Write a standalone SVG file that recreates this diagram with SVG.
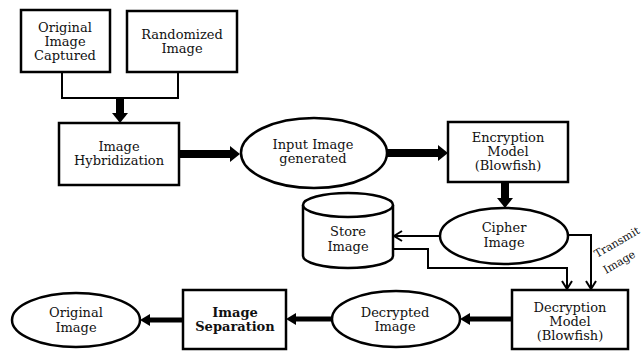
<svg xmlns="http://www.w3.org/2000/svg" width="643" height="351" viewBox="0 0 643 351">
<style>
.n{fill:#fff;stroke:#000;stroke-width:2.5}
.t{font-family:"DejaVu Serif","Liberation Serif",serif;font-size:13px;text-anchor:middle;fill:#111}
.s{font-size:11px;text-anchor:start}
.b{font-weight:bold}
.c{fill:none;stroke:#000;stroke-width:2}
.k{fill:none;stroke:#000;stroke-width:8}
.k2{fill:none;stroke:#000;stroke-width:5}
</style>
<defs>
<marker id="big" markerUnits="userSpaceOnUse" markerWidth="10" markerHeight="16" refX="4" refY="8" orient="auto"><path d="M0,0 L10,8 L0,16 z" fill="#000"/></marker>
<marker id="mid" markerUnits="userSpaceOnUse" markerWidth="10" markerHeight="12" refX="4" refY="6" orient="auto"><path d="M0,0 L10,6 L0,12 z" fill="#000"/></marker>
<marker id="open" markerUnits="userSpaceOnUse" markerWidth="10" markerHeight="12" refX="9" refY="6" orient="auto"><path d="M1,1 L9,6 L1,11" fill="none" stroke="#000" stroke-width="2"/></marker>
</defs>
<g id="connectors">
<path class="c" d="M62,72 V98 H178 V72"/>
<path class="k" d="M120,98 V117" marker-end="url(#big)"/>
<path class="k" d="M179,154 H234" marker-end="url(#big)"/>
<path class="k" d="M387,153 H442" marker-end="url(#big)"/>
<path class="k" d="M505,182 V202" marker-end="url(#big)"/>
<path class="c" d="M440,236 H394" marker-end="url(#open)"/>
<path class="c" d="M393,249 H428 V268 H567 V289" marker-end="url(#open)"/>
<path class="c" d="M568,235 H591 V289" marker-end="url(#open)"/>
<path class="k2" d="M512,319 H466" marker-end="url(#mid)"/>
<path class="k2" d="M332,319 H292" marker-end="url(#mid)"/>
<path class="k2" d="M183,320 H146" marker-end="url(#mid)"/>
<text class="t s" transform="translate(597,258) rotate(-30)">Transmit</text>
<text class="t s" transform="translate(606,274) rotate(-30)">Image</text>
</g>
<g id="original-captured">
<rect class="n" x="21" y="10" width="89" height="62"/>
<text class="t" x="65" y="32">Original</text>
<text class="t" x="65" y="46">Image</text>
<text class="t" x="65" y="60">Captured</text>
</g>
<g id="randomized">
<rect class="n" x="127" y="11" width="110" height="61"/>
<text class="t" x="182" y="39">Randomized</text>
<text class="t" x="182" y="53">Image</text>
</g>
<g id="hybridization">
<rect class="n" x="59" y="123" width="120" height="62"/>
<text class="t" x="119" y="151">Image</text>
<text class="t" x="119" y="165">Hybridization</text>
</g>
<g id="input-image">
<ellipse class="n" cx="314" cy="153" rx="73" ry="35"/>
<text class="t" x="313" y="149">Input Image</text>
<text class="t" x="313" y="163">generated</text>
</g>
<g id="encryption">
<rect class="n" x="448" y="122" width="120" height="60"/>
<text class="t" x="508" y="142">Encryption</text>
<text class="t" x="508" y="156">Model</text>
<text class="t" x="508" y="170">(Blowfish)</text>
</g>
<g id="cipher">
<ellipse class="n" cx="504" cy="236" rx="64" ry="28"/>
<text class="t" x="504" y="232">Cipher</text>
<text class="t" x="504" y="247">Image</text>
</g>
<g id="store">
<path class="n" d="M303,205 V256 A45,12 0 0 0 393,256 V205"/>
<ellipse class="n" cx="348" cy="205" rx="45" ry="12"/>
<text class="t" x="348" y="236">Store</text>
<text class="t" x="348" y="251">Image</text>
</g>
<g id="decryption">
<rect class="n" x="512" y="290" width="116" height="59"/>
<text class="t" x="570" y="312">Decryption</text>
<text class="t" x="570" y="326">Model</text>
<text class="t" x="570" y="340">(Blowfish)</text>
</g>
<g id="decrypted">
<ellipse class="n" cx="396" cy="319" rx="64" ry="28"/>
<text class="t" x="395" y="317">Decrypted</text>
<text class="t" x="395" y="331">Image</text>
</g>
<g id="separation">
<rect class="n" x="183" y="290" width="103" height="59"/>
<text class="t b" x="235" y="317">Image</text>
<text class="t b" x="235" y="331">Separation</text>
</g>
<g id="original-image">
<ellipse class="n" cx="76" cy="320" rx="64" ry="27"/>
<text class="t" x="76" y="317">Original</text>
<text class="t" x="76" y="332">Image</text>
</g>
</svg>
